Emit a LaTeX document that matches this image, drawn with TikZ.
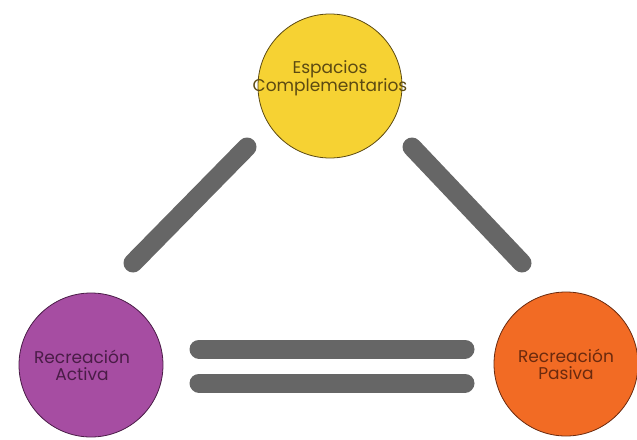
\documentclass[tikz,border=0pt]{standalone}
\usepackage{fontspec}
\setmainfont{Poppins}
\usepackage{tikz}
\usetikzlibrary{calc,positioning}

\definecolor{barGray}{HTML}{666666}
\definecolor{compFill}{HTML}{F6D233}
\definecolor{actFill}{HTML}{A64DA2}
\definecolor{pasFill}{HTML}{F26B24}
\definecolor{compText}{HTML}{5C4A12}
\definecolor{actText}{HTML}{4A1C47}
\definecolor{pasText}{HTML}{6B2A0E}

\begin{document}
\begin{tikzpicture}[
  x=1pt, y=-1pt,
  area/.style={circle, draw, line width=0.8pt, minimum size=144pt, inner sep=0pt},
  txt/.style={align=center, font=\fontsize{17}{17}\selectfont},
  bar/.style={line width=19pt, line cap=round, barGray},
]
\useasboundingbox (0,0) rectangle (637,439);

% Main circles
\node[area, fill=compFill, draw=compText] (comp) at (330,86) {};
\node[area, fill=actFill, draw=actText] (act) at (91,365) {};
\node[area, fill=pasFill, draw=pasText] (pas) at (566,364) {};

% Labels inside circles
\node[txt, text=compText] (compLbl) at ([yshift=8pt]comp.center) {Espacios\\Complementarios};
\node[txt, text=actText] (actLbl) at ([xshift=-9pt]act.center) {Recreación\\Activa};
\node[txt, text=pasText] (pasLbl) at (pas.center) {Recreación\\Pasiva};

% Bar end points
\coordinate (leftLow) at (133,263);
\coordinate (leftUp) at (247,147);
\coordinate (rightUp) at (412,147);
\coordinate (rightLow) at (522,263);
\coordinate (topBarL) at (199,349);
\coordinate (topBarR) at (465,349);
\coordinate (lowBarL) at (199,383);
\coordinate (lowBarR) at (465,383);

% Connecting bars
\draw[bar] (leftLow) -- (leftUp);
\draw[bar] (rightUp) -- (rightLow);
\draw[bar] (topBarL) -- (topBarR);
\draw[bar] (lowBarL) -- (lowBarR);
\end{tikzpicture}
\end{document}
